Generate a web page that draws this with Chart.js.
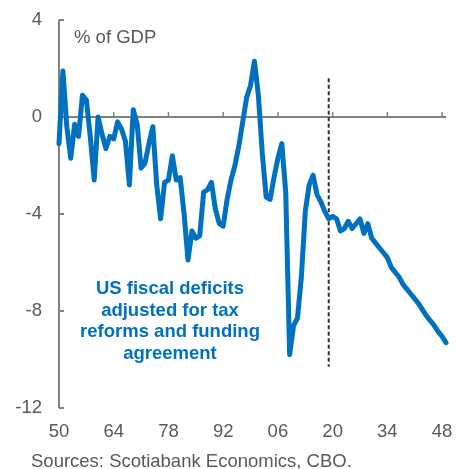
<!DOCTYPE html>
<html>
<head>
<meta charset="utf-8">
<script src="https://cdn.jsdelivr.net/npm/chart.js@4"></script>
<style>
  body { margin: 0; background: #fff; }
  canvas { display: block; }
</style>
</head>
<body>
<canvas id="deficitChart" width="461" height="469"></canvas>
<script>
// US budget balance, % of GDP, fiscal years
const firstYear = 1950;
const histDeficit = [
  -1.1, 1.9, -0.4, -1.7, -0.3, -0.8, 0.9, 0.7, -0.8, -2.6,   // 1950s
  0.0, -0.7, -1.3, -0.8, -0.9, -0.2, -0.5, -1.0, -2.8, 0.3,  // 1960s
  -0.3, -2.1, -1.9, -1.1, -0.4, -2.8, -4.2, -2.7, -2.6, -1.6, // 1970s
  -2.6, -2.5, -4.0, -5.9, -4.7, -5.0, -4.9, -3.1, -3.0, -2.7, // 1980s
  -3.8, -4.4, -4.5, -3.4, -2.6, -2.0, -1.2, -0.2, 0.8, 1.3,  // 1990s
  2.3, 0.9, -1.5, -3.3, -3.4, -2.5, -1.7, -1.1, -3.1, -9.8,  // 2000s
  -8.6, -8.3, -6.6, -3.9, -2.8, -2.4, -3.2, -3.5, -3.9, -4.2  // 2010s
];
// CBO projection, adjusted (2020-2049)
const cboProjection = [
  -4.1, -4.2, -4.7, -4.6, -4.3, -4.6, -4.4, -4.2, -4.8, -4.4,
  -5.0, -5.2, -5.4, -5.6, -5.8, -6.2, -6.4, -6.6, -6.9, -7.1,
  -7.3, -7.5, -7.7, -7.95, -8.2, -8.4, -8.6, -8.85, -9.05, -9.3
];
const xTickYears = [1950, 1964, 1978, 1992, 2006, 2020, 2034, 2048];
const yTicks = [-12, -8, -4, 0, 4];
const forecastStart = 2019;

const deficits = histDeficit.concat(cboProjection);
const points = deficits.map((v, i) => ({ x: firstYear + i, y: v }));

const axisGrey = "#808080";
const textGrey = "#595959";
const blue = "#0070C0";
const fontFamily = "'Liberation Sans', Arial, sans-serif";

const noPad = s => {
  s.paddingTop = 0; s.paddingBottom = 0;
  s.paddingLeft = 0; s.paddingRight = 0;
};

const decorations = {
  id: "decorations",
  beforeDatasetsDraw(chart) {
    const { ctx, scales } = chart;
    const xs = scales.x, ys = scales.y;
    const left = xs.getPixelForValue(firstYear);
    const right = xs.getPixelForValue(firstYear + deficits.length - 1);
    const y0 = ys.getPixelForValue(0);
    ctx.save();
    ctx.strokeStyle = axisGrey;
    ctx.lineWidth = 2;
    // y axis with inward ticks
    ctx.beginPath();
    ctx.moveTo(left, ys.getPixelForValue(yTicks[yTicks.length - 1]));
    ctx.lineTo(left, ys.getPixelForValue(yTicks[0]));
    yTicks.forEach(t => {
      const py = ys.getPixelForValue(t);
      ctx.moveTo(left, py);
      ctx.lineTo(left + 5, py);
    });
    ctx.stroke();
    // zero line with upward ticks
    ctx.beginPath();
    ctx.moveTo(left, y0);
    ctx.lineTo(right, y0);
    ctx.stroke();
    ctx.lineWidth = 1.5;
    ctx.beginPath();
    xTickYears.forEach(t => {
      const px = xs.getPixelForValue(t);
      ctx.moveTo(px, y0);
      ctx.lineTo(px, y0 - 5);
    });
    ctx.stroke();
    // forecast divider
    const fx = xs.getPixelForValue(forecastStart);
    ctx.strokeStyle = "#333333";
    ctx.lineWidth = 2;
    ctx.setLineDash([4, 2.5]);
    ctx.beginPath();
    ctx.moveTo(fx, ys.getPixelForValue(1.6));
    ctx.lineTo(fx, ys.getPixelForValue(-10.3));
    ctx.stroke();
    ctx.restore();
  },
  afterDraw(chart) {
    const { ctx } = chart;
    ctx.save();
    ctx.fillStyle = textGrey;
    ctx.font = "18.5px " + fontFamily;
    ctx.textAlign = "left";
    ctx.textBaseline = "alphabetic";
    ctx.fillText("% of GDP", 74, 43);
    ctx.fillText("Sources: Scotiabank Economics, CBO.", 31, 467);
    ctx.fillStyle = blue;
    ctx.font = "bold 18.5px " + fontFamily;
    ctx.textAlign = "center";
    const note = ["US fiscal deficits", "adjusted for tax", "reforms and funding", "agreement"];
    note.forEach((line, i) => ctx.fillText(line, 170, 294 + i * 21.5));
    ctx.restore();
  }
};

new Chart(document.getElementById("deficitChart"), {
  type: "line",
  data: {
    datasets: [{
      data: points,
      borderColor: blue,
      borderWidth: 5,
      pointRadius: 0,
      tension: 0,
      borderJoinStyle: "round",
      borderCapStyle: "round",
      clip: false
    }]
  },
  options: {
    responsive: false,
    devicePixelRatio: 1,
    animation: false,
    layout: { padding: { top: 20, right: 15, left: 0, bottom: 0 } },
    plugins: { legend: { display: false }, tooltip: { enabled: false } },
    scales: {
      x: {
        type: "linear",
        min: firstYear,
        max: firstYear + deficits.length - 1,
        afterBuildTicks: s => { s.ticks = xTickYears.map(v => ({ value: v })); },
        afterFit: s => { s.height = 61; noPad(s); },
        grid: { display: false, drawTicks: false },
        border: { display: false },
        ticks: {
          padding: 13,
          color: textGrey,
          font: { family: fontFamily, size: 18.5 },
          callback: v => String(v).slice(2),
          maxRotation: 0
        }
      },
      y: {
        min: yTicks[0],
        max: yTicks[yTicks.length - 1],
        afterBuildTicks: s => { s.ticks = yTicks.map(v => ({ value: v })); },
        afterFit: s => { s.width = 59; noPad(s); },
        grid: { display: false, drawTicks: false },
        border: { display: false },
        ticks: {
          padding: 17,
          color: textGrey,
          font: { family: fontFamily, size: 18.5 }
        }
      }
    }
  },
  plugins: [decorations]
});
</script>
</body>
</html>
